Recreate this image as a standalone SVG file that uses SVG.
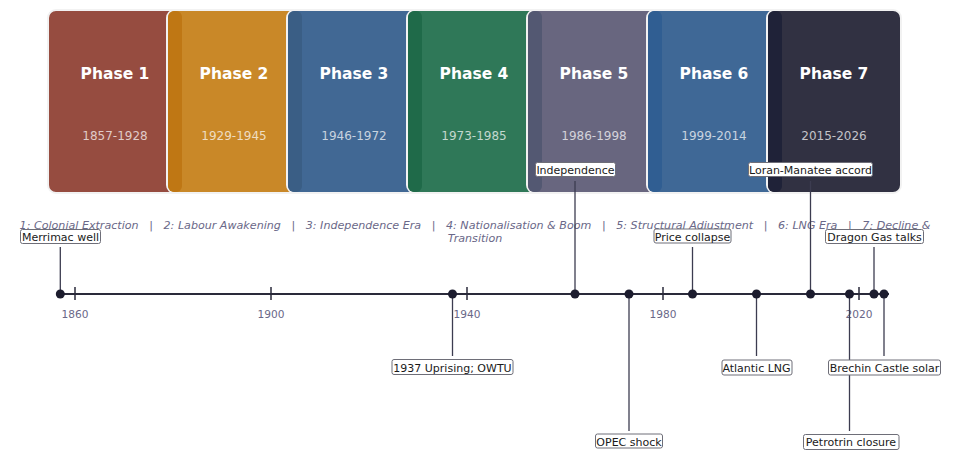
<svg xmlns="http://www.w3.org/2000/svg" width="960" height="465" viewBox="0 0 960 465">
<style>
text{font-family:"DejaVu Sans","Liberation Sans",sans-serif}
.card{stroke:#f2f2f2;stroke-width:2}
.title{font-size:15.5px;font-weight:bold;fill:#ffffff;text-anchor:middle}
.dates{font-size:12px;fill:#ffffff;fill-opacity:0.72;text-anchor:middle}
.legend{font-size:11.12px;font-style:italic;fill:#6a6888;text-anchor:middle;white-space:pre}
.tick{stroke:#2a2a3a;stroke-width:1.5}
.ticklbl{font-size:10.6px;fill:#6a6888;text-anchor:middle}
.stem{stroke:#3c3c50;stroke-width:1.3;fill:none}
.dot{fill:#1c1c2e}
.lblbox{fill:#ffffff;stroke:#6e6e78;stroke-width:1}
.lbl{font-size:11px;fill:#1a1a1a;text-anchor:middle}
</style>
<rect width="960" height="465" fill="#ffffff"/>
<g id="phase1"><rect class="card" x="48" y="10" width="134" height="183" rx="8" fill="#964c40"/><text class="title" x="115" y="79">Phase 1</text><text class="dates" x="115" y="140">1857-1928</text></g>
<g id="phase2"><rect class="card" x="167" y="10" width="134" height="183" rx="8" fill="#c98828"/><rect x="168" y="11" width="14" height="181" rx="6" fill="#bf7714"/><text class="title" x="234" y="79">Phase 2</text><text class="dates" x="234" y="140">1929-1945</text></g>
<g id="phase3"><rect class="card" x="287" y="10" width="134" height="183" rx="8" fill="#416894"/><rect x="288" y="11" width="14" height="181" rx="6" fill="#3a5e85"/><text class="title" x="354" y="79">Phase 3</text><text class="dates" x="354" y="140">1946-1972</text></g>
<g id="phase4"><rect class="card" x="407" y="10" width="134" height="183" rx="8" fill="#2f7858"/><rect x="408" y="11" width="14" height="181" rx="6" fill="#1f6a49"/><text class="title" x="474" y="79">Phase 4</text><text class="dates" x="474" y="140">1973-1985</text></g>
<g id="phase5"><rect class="card" x="527" y="10" width="134" height="183" rx="8" fill="#68667f"/><rect x="528" y="11" width="14" height="181" rx="6" fill="#535872"/><text class="title" x="594" y="79">Phase 5</text><text class="dates" x="594" y="140">1986-1998</text></g>
<g id="phase6"><rect class="card" x="647" y="10" width="134" height="183" rx="8" fill="#3f6896"/><rect x="648" y="11" width="14" height="181" rx="6" fill="#305e92"/><text class="title" x="714" y="79">Phase 6</text><text class="dates" x="714" y="140">1999-2014</text></g>
<g id="phase7"><rect class="card" x="767" y="10" width="134" height="183" rx="8" fill="#313142"/><rect x="768" y="11" width="14" height="181" rx="6" fill="#1f2238"/><text class="title" x="834" y="79">Phase 7</text><text class="dates" x="834" y="140">2015-2026</text></g>
<g id="legend"><text class="legend" x="475" y="228.5">1: Colonial Extraction   |   2: Labour Awakening   |   3: Independence Era   |   4: Nationalisation &amp; Boom   |   5: Structural Adjustment   |   6: LNG Era   |   7: Decline &amp;</text><text class="legend" x="475" y="242">Transition</text></g>
<g id="axis">
<line x1="60" y1="294" x2="889" y2="294" stroke="#2a2a3a" stroke-width="2"/>
<line class="tick" x1="75" y1="287" x2="75" y2="300"/><line class="tick" x1="271" y1="287" x2="271" y2="300"/><line class="tick" x1="467" y1="287" x2="467" y2="300"/><line class="tick" x1="663" y1="287" x2="663" y2="300"/><line class="tick" x1="859" y1="287" x2="859" y2="300"/>
<text class="ticklbl" x="75" y="318">1860</text><text class="ticklbl" x="271" y="318">1900</text><text class="ticklbl" x="467" y="318">1940</text><text class="ticklbl" x="663" y="318">1980</text><text class="ticklbl" x="859" y="318">2020</text>
</g>
<g id="connectors">
<line class="stem" x1="60.3" y1="247" x2="60.3" y2="294"/>
<line class="stem" x1="452.5" y1="294" x2="452.5" y2="356"/>
<line class="stem" x1="575" y1="181" x2="575" y2="294"/>
<line class="stem" x1="629" y1="294" x2="629" y2="431"/>
<line class="stem" x1="692.5" y1="247" x2="692.5" y2="294"/>
<line class="stem" x1="756.5" y1="294" x2="756.5" y2="356"/>
<line class="stem" x1="810.5" y1="181" x2="810.5" y2="294"/>
<line class="stem" x1="849.5" y1="294" x2="849.5" y2="431"/>
<line class="stem" x1="874" y1="247" x2="874" y2="294"/>
<line class="stem" x1="884" y1="294" x2="884" y2="356"/>
</g>
<g id="ev-merrimac"><circle class="dot" cx="60.3" cy="294" r="4.5"/><rect class="lblbox" x="20.5" y="229.5" width="80" height="14" rx="2"/><text class="lbl" x="60.5" y="240.5">Merrimac well</text></g>
<g id="ev-1937"><circle class="dot" cx="452.5" cy="294" r="4.5"/><rect class="lblbox" x="392" y="359.5" width="121" height="15" rx="2"/><text class="lbl" x="452.5" y="371.5">1937 Uprising; OWTU</text></g>
<g id="ev-independence"><circle class="dot" cx="575" cy="294" r="4.5"/><rect class="lblbox" x="535.5" y="162.5" width="80" height="14" rx="2"/><text class="lbl" x="575.5" y="173.5">Independence</text></g>
<g id="ev-opec"><circle class="dot" cx="629" cy="294" r="4.5"/><rect class="lblbox" x="595.5" y="434" width="67" height="14" rx="2"/><text class="lbl" x="629" y="445.5">OPEC shock</text></g>
<g id="ev-price"><circle class="dot" cx="692.5" cy="294" r="4.5"/><rect class="lblbox" x="654" y="229" width="77" height="14" rx="2"/><text class="lbl" x="692.5" y="240.5">Price collapse</text></g>
<g id="ev-atlantic"><circle class="dot" cx="756.5" cy="294" r="4.5"/><rect class="lblbox" x="722" y="360" width="70" height="15" rx="2"/><text class="lbl" x="756.5" y="371.5">Atlantic LNG</text></g>
<g id="ev-loran"><circle class="dot" cx="810.5" cy="294" r="4.5"/><rect class="lblbox" x="748.5" y="162.5" width="124" height="14" rx="2"/><text class="lbl" x="810.5" y="173.5">Loran-Manatee accord</text></g>
<g id="ev-petrotrin"><circle class="dot" cx="849.5" cy="294" r="4.5"/><rect class="lblbox" x="803.5" y="434.5" width="95.5" height="15" rx="2"/><text class="lbl" x="851" y="446">Petrotrin closure</text></g>
<g id="ev-dragon"><circle class="dot" cx="874" cy="294" r="4.5"/><rect class="lblbox" x="825.5" y="229.5" width="98" height="14" rx="2"/><text class="lbl" x="874.5" y="240.5">Dragon Gas talks</text></g>
<g id="ev-brechin"><circle class="dot" cx="884" cy="294" r="4.5"/><rect class="lblbox" x="828.5" y="360" width="112" height="15" rx="2"/><text class="lbl" x="884.5" y="371.5">Brechin Castle solar</text></g>
</svg>
